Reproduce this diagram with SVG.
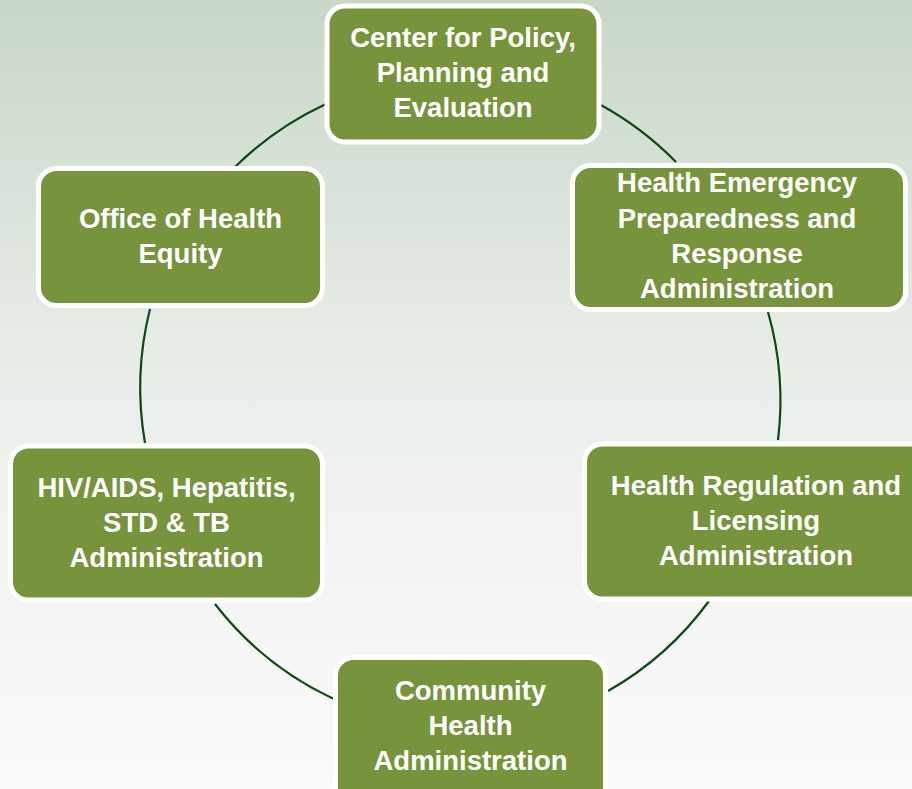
<svg xmlns="http://www.w3.org/2000/svg" width="912" height="789" viewBox="0 0 912 789">
  <defs>
    <linearGradient id="bg" x1="0" y1="0" x2="0" y2="1">
      <stop offset="0" stop-color="#c8d7c8"/>
      <stop offset="0.5" stop-color="#ebefeb"/>
      <stop offset="1" stop-color="#fbfbfb"/>
    </linearGradient>
    <style>
      .box { fill: #77933c; stroke: #ffffff; stroke-width: 5; }
      .lbl { font-family: "Liberation Sans", Arial, sans-serif; font-weight: bold; font-size: 27.5px; fill: #ffffff; text-anchor: middle; }
      .arc { fill: none; stroke: #0b4a14; stroke-width: 2.2; }
    </style>
  </defs>
  <rect x="0" y="0" width="912" height="789" fill="url(#bg)"/>

  <g id="connectors">
    <path class="arc" d="M235,167 A322,322 0 0 1 326,104"/>
    <path class="arc" d="M599,104 A322,322 0 0 1 676,162"/>
    <path class="arc" d="M768,312 A322,322 0 0 1 778,440"/>
    <path class="arc" d="M709,601 A322,322 0 0 1 608,691"/>
    <path class="arc" d="M334,699 A322,322 0 0 1 215,604"/>
    <path class="arc" d="M145,443 A322,322 0 0 1 150,309"/>
  </g>

  <g id="node-cppe">
    <rect class="box" x="327" y="6" width="272" height="136" rx="18"/>
    <text class="lbl" x="463" y="47">Center for Policy,</text>
    <text class="lbl" x="463" y="82">Planning and</text>
    <text class="lbl" x="463" y="117">Evaluation</text>
  </g>

  <g id="node-hepra">
    <rect class="box" x="572.5" y="165.5" width="333" height="144" rx="18"/>
    <text class="lbl" x="737" y="192">Health Emergency</text>
    <text class="lbl" x="737" y="227.5">Preparedness and</text>
    <text class="lbl" x="737" y="263">Response</text>
    <text class="lbl" x="737" y="298">Administration</text>
  </g>

  <g id="node-hrla">
    <rect class="box" x="584.5" y="444" width="345" height="155" rx="18"/>
    <text class="lbl" x="756" y="495">Health Regulation and</text>
    <text class="lbl" x="756" y="530">Licensing</text>
    <text class="lbl" x="756" y="565">Administration</text>
  </g>

  <g id="node-cha">
    <rect class="box" x="335.5" y="657.5" width="270" height="150" rx="18"/>
    <text class="lbl" x="470.5" y="700">Community</text>
    <text class="lbl" x="470.5" y="735">Health</text>
    <text class="lbl" x="470.5" y="770">Administration</text>
  </g>

  <g id="node-hahsta">
    <rect class="box" x="10.5" y="446" width="312" height="154" rx="18"/>
    <text class="lbl" x="166.5" y="497">HIV/AIDS, Hepatitis,</text>
    <text class="lbl" x="166.5" y="532">STD &amp; TB</text>
    <text class="lbl" x="166.5" y="567">Administration</text>
  </g>

  <g id="node-ohe">
    <rect class="box" x="38.5" y="168.5" width="284" height="137" rx="18"/>
    <text class="lbl" x="180.5" y="228">Office of Health</text>
    <text class="lbl" x="180.5" y="263">Equity</text>
  </g>
</svg>
